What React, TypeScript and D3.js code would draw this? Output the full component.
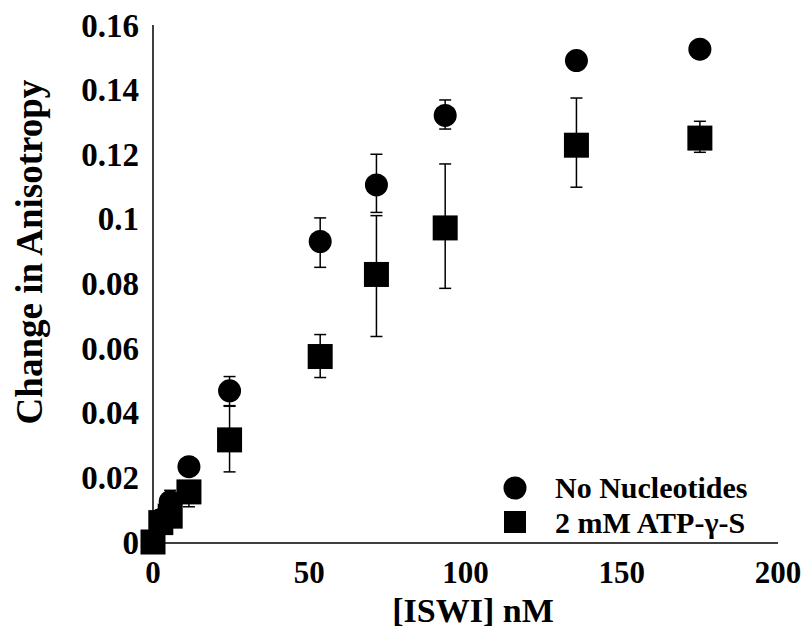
import React from "react";
import * as d3 from "d3";

const concentrations = [0, 2.5, 5.5, 11.5, 24.5, 53.5, 71.5, 93.5, 135.5, 175];
const noNucleotides = [0, 0.007, 0.0125, 0.0233, 0.0468, 0.093, 0.1105, 0.132, 0.149, 0.1525];
const noNucErrLow = [0, 0.005, 0.0095, 0.0215, 0.0422, 0.085, 0.102, 0.1278, 0.148, 0.152];
const noNucErrHigh = [0, 0.009, 0.016, 0.0245, 0.0512, 0.1003, 0.12, 0.1368, 0.15, 0.153];
const atpGammaS = [0, 0.006, 0.008, 0.0155, 0.0316, 0.0574, 0.0828, 0.0972, 0.1228, 0.125];
const atpErrLow = [0, 0.005, 0.007, 0.0109, 0.0217, 0.0509, 0.0636, 0.0785, 0.1098, 0.1206];
const atpErrHigh = [0, 0.007, 0.009, 0.0185, 0.042, 0.0642, 0.101, 0.117, 0.1374, 0.1302];
const xTicks = [0, 50, 100, 150, 200];
const yTicks = [0, 0.02, 0.04, 0.06, 0.08, 0.1, 0.12, 0.14, 0.16];
const seriesNames = ["No Nucleotides", "2 mM ATP-\u03b3-S"];

export default function App() {
  const W = 804, H = 633;
  const x = d3.scaleLinear().domain([0, 200]).range([153, 778]);
  const y = d3.scaleLinear().domain([0, 0.16]).range([542, 25]);
  const font = "'Liberation Serif', 'Times New Roman', serif";
  const r = 11.5;
  const s = 25;
  const cap = 6;
  const errBar = (xi: number, lo: number, hi: number, key: string) => (
    <g key={key} stroke="#000" strokeWidth={1.5}>
      <line x1={x(xi)} x2={x(xi)} y1={y(lo)} y2={y(hi)} />
      <line x1={x(xi) - cap} x2={x(xi) + cap} y1={y(lo)} y2={y(lo)} />
      <line x1={x(xi) - cap} x2={x(xi) + cap} y1={y(hi)} y2={y(hi)} />
    </g>
  );
  return (
    <svg width={W} height={H} style={{ position: "absolute", left: 0, top: 0, background: "#fff" }}>
      <rect x={0} y={0} width={W} height={H} fill="#fff" />
      {/* axes */}
      <line x1={x(0)} x2={x(0)} y1={y(0.16)} y2={y(0) + 1} stroke="#000" strokeWidth={1.5} />
      <line x1={x(0)} x2={x(200)} y1={y(0) + 1} y2={y(0) + 1} stroke="#000" strokeWidth={1.5} />
      {yTicks.map((t) => (
        <text key={"y" + t} x={139} y={y(t)} dy="0.35em" textAnchor="end" fontFamily={font} fontWeight="bold" fontSize={33}>
          {d3.format("")(+t.toFixed(2))}
        </text>
      ))}
      {xTicks.map((t) => (
        <text key={"x" + t} x={x(t)} y={583} textAnchor="middle" fontFamily={font} fontWeight="bold" fontSize={31}>
          {t}
        </text>
      ))}
      <text x={473} y={622} textAnchor="middle" fontFamily={font} fontWeight="bold" fontSize={34}>
        [ISWI] nM
      </text>
      <text transform={`translate(42,${252}) rotate(-90)`} textAnchor="middle" fontFamily={font} fontWeight="bold" fontSize={37}>
        Change in Anisotropy
      </text>
      {/* error bars */}
      {concentrations.map((c, i) => errBar(c, atpErrLow[i], atpErrHigh[i], "ea" + i))}
      {concentrations.map((c, i) => errBar(c, noNucErrLow[i], noNucErrHigh[i], "en" + i))}
      {/* markers */}
      {concentrations.map((c, i) => (
        <circle key={"c" + i} cx={x(c)} cy={y(noNucleotides[i])} r={r} fill="#000" />
      ))}
      {concentrations.map((c, i) => (
        <rect key={"s" + i} x={x(c) - s / 2} y={y(atpGammaS[i]) - s / 2} width={s} height={s} fill="#000" />
      ))}
      {/* legend */}
      <circle cx={515} cy={488} r={r} fill="#000" />
      <text x={555} y={498} fontFamily={font} fontWeight="bold" fontSize={30}>{seriesNames[0]}</text>
      <rect x={515 - 11} y={522 - 11} width={22} height={22} fill="#000" />
      <text x={555} y={533} fontFamily={font} fontWeight="bold" fontSize={30}>{seriesNames[1]}</text>
    </svg>
  );
}
